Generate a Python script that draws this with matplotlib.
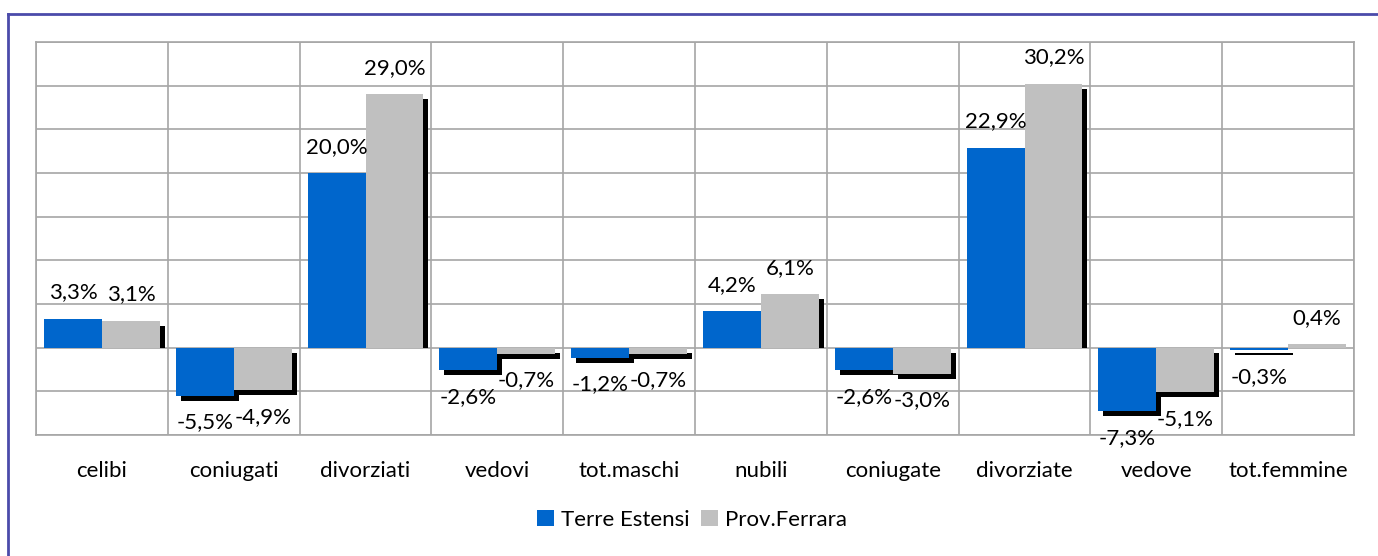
import numpy as np
import matplotlib.pyplot as plt
import matplotlib.patheffects as pe
from matplotlib.transforms import Bbox, TransformedBbox
from matplotlib.lines import Line2D
from matplotlib.patches import Patch

plt.rcParams['font.family'] = ['Lato', 'DejaVu Sans']

categories = ['celibi', 'coniugati', 'divorziati', 'vedovi', 'tot.maschi',
              'nubili', 'coniugate', 'divorziate', 'vedove', 'tot.femmine']
terre_estensi = [3.3, -5.5, 20.0, -2.6, -1.2, 4.2, -2.6, 22.9, -7.3, -0.3]
prov_ferrara = [3.1, -4.9, 29.0, -0.7, -0.7, 6.1, -3.0, 30.2, -5.1, 0.4]
series_names = ['Terre Estensi', 'Prov.Ferrara']
colors = ['#0066CC', '#C0C0C0']

font_size = 16

fig = plt.figure(figsize=(13.78, 5.56), dpi=100)
ax = fig.add_axes([36 / 1378, 1 - 435 / 556, (1354 - 36) / 1378, (435 - 42) / 556])

x = np.arange(len(categories))
width = 0.44
shadow = [pe.SimplePatchShadow(offset=(3.6, -3.6), shadow_rgbFace='black', alpha=1.0), pe.Normal()]

# clip region so that positive bars don't throw a shadow below zero
upper = TransformedBbox(Bbox([[-1, 0], [len(categories), 40]]), ax.transData)

for i, (vals, col, name) in enumerate(zip([terre_estensi, prov_ferrara], colors, series_names)):
    xs = x + (i - 0.5) * width
    bars = ax.bar(xs, vals, width=width, color=col, zorder=3 + i)
    for b, v in zip(bars, vals):
        b.set_path_effects(shadow)
        if v > 0:
            b.set_clip_box(upper)
        label = f'{v:.1f}%'.replace('.', ',')
        off = 19 if v >= 0 else -19
        ax.annotate(label, (b.get_x() + width / 2, v), xytext=(0, off),
                    textcoords='offset points', ha='center', va='center',
                    fontsize=font_size, zorder=10)

ax.set_xlim(-0.5, len(categories) - 0.5)
ax.set_ylim(-10, 35)
ax.set_yticks(np.arange(-10, 36, 5))
ax.set_yticklabels([])
ax.set_xticks(x)
ax.set_xticklabels(categories, fontsize=font_size)
ax.set_xticks(np.arange(-0.5, len(categories)), minor=True)
ax.tick_params(axis='both', which='both', length=0)
ax.tick_params(axis='x', pad=19)
ax.grid(axis='y', which='major', color='#A6A6A6', linewidth=1.2, zorder=0)
ax.grid(axis='x', which='minor', color='#A6A6A6', linewidth=1.2, zorder=0)
ax.set_axisbelow(True)
for s in ax.spines.values():
    s.set_color('#A6A6A6')
    s.set_linewidth(1.2)

handles = [Patch(facecolor=c, label=n) for c, n in zip(colors, series_names)]
fig.legend(handles=handles, loc='center', bbox_to_anchor=(692 / 1378, 1 - 520 / 556), ncol=2,
           frameon=False, fontsize=font_size, handlelength=0.75, handleheight=0.75,
           handletextpad=0.3, columnspacing=0.55)

# outer frame (top and left edges visible)
fig.add_artist(Line2D([8 / 1378, 1], [1 - 14 / 556, 1 - 14 / 556], color='#4B4BAA', linewidth=2))
fig.add_artist(Line2D([8 / 1378, 8 / 1378], [0, 1 - 14 / 556], color='#4B4BAA', linewidth=2))

fig.savefig('out.png', dpi=100)
